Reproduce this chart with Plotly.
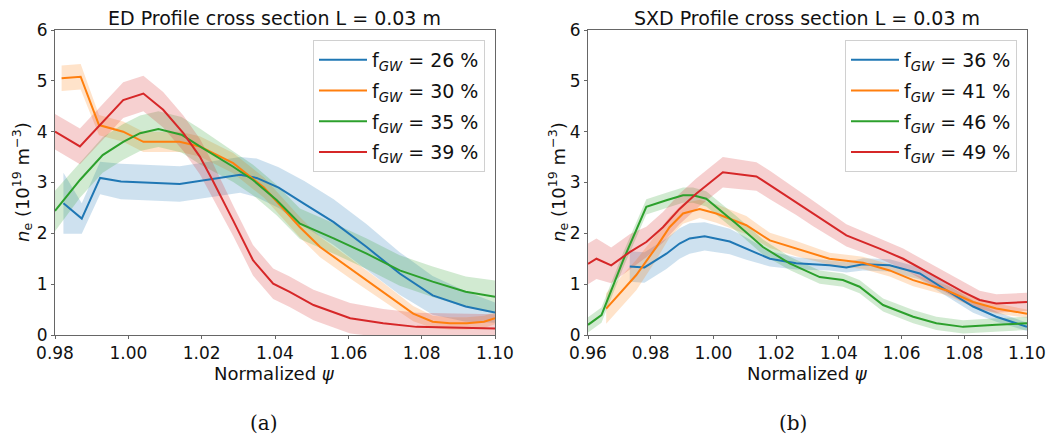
import plotly.graph_objects as go

# ---------------- data ----------------
# ED profile, L = 0.03 m
ed_labels = ["26", "30", "35", "39"]
ed_26_x = [0.9823, 0.9873, 0.9923, 0.998, 1.014, 1.0305, 1.035, 1.041, 1.048, 1.056, 1.065, 1.074, 1.083, 1.092, 1.10]
ed_26_y = [2.59, 2.29, 3.09, 3.02, 2.97, 3.15, 3.09, 2.90, 2.58, 2.22, 1.73, 1.21, 0.78, 0.56, 0.44]
ed_26_err = [0.6, 0.3, 0.32, 0.35, 0.35, 0.35, 0.38, 0.4, 0.45, 0.45, 0.45, 0.42, 0.38, 0.3, 0.2]

ed_30_x = [0.9818, 0.987, 0.992, 0.9986, 1.0041, 1.014, 1.0195, 1.0286, 1.037, 1.0468, 1.0523, 1.0605, 1.0695, 1.0777, 1.083, 1.0877, 1.0923, 1.097, 1.10]
ed_30_y = [5.05, 5.08, 4.13, 4.0, 3.8, 3.8, 3.71, 3.38, 2.9, 2.12, 1.73, 1.31, 0.85, 0.42, 0.26, 0.23, 0.23, 0.26, 0.33]
ed_30_err = [0.25, 0.25, 0.2, 0.2, 0.2, 0.2, 0.2, 0.2, 0.2, 0.2, 0.2, 0.2, 0.18, 0.15, 0.12, 0.12, 0.12, 0.12, 0.12]

ed_35_x = [0.98, 0.9868, 0.993, 0.9986, 1.0032, 1.0082, 1.0145, 1.0195, 1.0286, 1.034, 1.0405, 1.0468, 1.056, 1.065, 1.074, 1.083, 1.092, 1.10]
ed_35_y = [2.44, 3.05, 3.54, 3.8, 3.97, 4.05, 3.94, 3.71, 3.31, 3.05, 2.65, 2.19, 1.9, 1.6, 1.27, 1.05, 0.85, 0.75]
ed_35_err = [0.4, 0.35, 0.35, 0.35, 0.35, 0.35, 0.35, 0.35, 0.3, 0.3, 0.3, 0.3, 0.3, 0.3, 0.3, 0.3, 0.3, 0.32]

ed_39_x = [0.98, 0.9868, 0.9986, 1.0041, 1.0095, 1.015, 1.0195, 1.023, 1.0286, 1.034, 1.0395, 1.044, 1.0505, 1.0605, 1.0695, 1.0786, 1.10]
ed_39_y = [4.0, 3.71, 4.62, 4.75, 4.43, 3.97, 3.51, 3.04, 2.25, 1.47, 1.01, 0.85, 0.59, 0.33, 0.23, 0.16, 0.13]
ed_39_err = [0.35, 0.35, 0.35, 0.35, 0.35, 0.35, 0.35, 0.35, 0.3, 0.3, 0.3, 0.3, 0.3, 0.3, 0.28, 0.28, 0.28]

# SXD profile, L = 0.03 m
sxd_labels = ["36", "41", "46", "49"]
sxd_36_x = [0.9733, 0.978, 0.985, 0.9892, 0.9924, 0.9972, 1.0052, 1.0105, 1.018, 1.0264, 1.037, 1.0424, 1.0477, 1.0562, 1.0658, 1.0743, 1.0828, 1.0902, 1.10]
sxd_36_y = [1.35, 1.33, 1.6, 1.8, 1.9, 1.94, 1.84, 1.70, 1.5, 1.41, 1.37, 1.33, 1.39, 1.37, 1.21, 0.88, 0.56, 0.36, 0.16]
sxd_36_err = [0.3, 0.3, 0.3, 0.3, 0.3, 0.28, 0.25, 0.22, 0.15, 0.12, 0.1, 0.1, 0.12, 0.12, 0.12, 0.12, 0.12, 0.1, 0.08]

sxd_41_x = [0.9658, 0.9754, 0.9818, 0.986, 0.9903, 0.9956, 1.0009, 1.0105, 1.018, 1.0264, 1.037, 1.0477, 1.0562, 1.0637, 1.0743, 1.0828, 1.0902, 1.10]
sxd_41_y = [0.52, 1.18, 1.73, 2.12, 2.39, 2.48, 2.39, 2.16, 1.86, 1.7, 1.5, 1.42, 1.27, 1.08, 0.88, 0.65, 0.52, 0.42]
sxd_41_err = [0.3, 0.3, 0.25, 0.2, 0.2, 0.18, 0.18, 0.18, 0.15, 0.15, 0.12, 0.12, 0.12, 0.12, 0.1, 0.1, 0.1, 0.08]

sxd_46_x = [0.96, 0.9643, 0.9712, 0.9786, 0.985, 0.9903, 0.9935, 0.9977, 1.0073, 1.0158, 1.0243, 1.0339, 1.0413, 1.0466, 1.0541, 1.0637, 1.0711, 1.0796, 1.0902, 1.10]
sxd_46_y = [0.2, 0.39, 1.47, 2.52, 2.65, 2.75, 2.75, 2.68, 2.19, 1.73, 1.41, 1.14, 1.08, 0.95, 0.59, 0.36, 0.23, 0.16, 0.2, 0.23]
sxd_46_err = [0.15, 0.15, 0.15, 0.15, 0.15, 0.15, 0.15, 0.15, 0.15, 0.15, 0.13, 0.13, 0.13, 0.13, 0.13, 0.13, 0.13, 0.13, 0.13, 0.13]

sxd_49_x = [0.96, 0.9627, 0.9674, 0.9733, 0.9786, 0.9839, 0.9892, 0.9945, 1.003, 1.0137, 1.018, 1.0264, 1.0318, 1.0424, 1.053, 1.0605, 1.069, 1.0796, 1.0849, 1.0902, 1.10]
sxd_49_y = [1.4, 1.5, 1.37, 1.63, 1.83, 2.12, 2.48, 2.78, 3.2, 3.12, 2.95, 2.61, 2.39, 1.96, 1.7, 1.5, 1.21, 0.85, 0.69, 0.62, 0.65]
sxd_49_err = [0.4, 0.4, 0.35, 0.35, 0.3, 0.3, 0.3, 0.3, 0.3, 0.28, 0.28, 0.25, 0.25, 0.22, 0.2, 0.2, 0.2, 0.2, 0.18, 0.18, 0.18]

colors = ["#1f77b4", "#ff7f0e", "#2ca02c", "#d62728"]
fills = ["rgba(31,119,180,0.22)", "rgba(255,127,14,0.22)", "rgba(44,160,44,0.22)", "rgba(214,39,40,0.22)"]

ed_series = [(ed_26_x, ed_26_y, ed_26_err), (ed_30_x, ed_30_y, ed_30_err),
             (ed_35_x, ed_35_y, ed_35_err), (ed_39_x, ed_39_y, ed_39_err)]
sxd_series = [(sxd_36_x, sxd_36_y, sxd_36_err), (sxd_41_x, sxd_41_y, sxd_41_err),
              (sxd_46_x, sxd_46_y, sxd_46_err), (sxd_49_x, sxd_49_y, sxd_49_err)]

# the page body margin is removed (post_script below), so window pixels == figure pixels
W, H = 1053, 439
FONT = "DejaVu Sans"


def fx(p):
    return p / W


def fy(p):
    return 1 - p / H


fig = go.Figure()


def add_panel(series, labels, xa, ya, legend, tag):
    # bands first
    for i, (x, y, e) in enumerate(series):
        lo = [v - d for v, d in zip(y, e)]
        hi = [v + d for v, d in zip(y, e)]
        fig.add_trace(go.Scatter(x=list(x) + list(x)[::-1], y=hi + lo[::-1], fill="toself",
                                 fillcolor=fills[i], line=dict(width=0), mode="lines",
                                 showlegend=False, hoverinfo="skip", xaxis=xa, yaxis=ya))
    for i, (x, y, e) in enumerate(series):
        fig.add_trace(go.Scatter(x=x, y=y, mode="lines", line=dict(color=colors[i], width=2),
                                 name="f<sub><i>GW</i></sub> = " + labels[i] + " %",
                                 legendgroup=tag + str(i),
                                 xaxis=xa, yaxis=ya, legend=legend))


add_panel(ed_series, ed_labels, "x", "y", "legend", "ed")
add_panel(sxd_series, sxd_labels, "x2", "y2", "legend2", "sxd")

axis_common = dict(showline=True, linecolor="#666", linewidth=1, mirror=True, ticks="outside",
                   ticklen=3, tickcolor="#666", showgrid=False, zeroline=False, automargin=False,
                   tickfont=dict(family=FONT, size=17, color="#111"))
ydom = [fy(335), fy(30)]
legend_common = dict(y=fy(40), xanchor="right", yanchor="top", bgcolor="white",
                     bordercolor="#d0d0d0", borderwidth=1, tracegroupgap=3, itemwidth=48,
                     font=dict(family=FONT, size=19, color="#111"))
fig.update_layout(
    width=W, height=H, margin=dict(l=0, r=0, t=0, b=0, autoexpand=False),
    paper_bgcolor="white", plot_bgcolor="white",
    xaxis=dict(domain=[fx(55), fx(495)], range=[0.98, 1.10], tickvals=[0.98, 1.00, 1.02, 1.04, 1.06, 1.08, 1.10],
               tickformat=".2f", anchor="y", **axis_common),
    yaxis=dict(domain=ydom, range=[0, 6], tickvals=[0, 1, 2, 3, 4, 5, 6], anchor="x", **axis_common),
    xaxis2=dict(domain=[fx(588), fx(1027)], range=[0.96, 1.10],
                tickvals=[0.96, 0.98, 1.00, 1.02, 1.04, 1.06, 1.08, 1.10],
                tickformat=".2f", anchor="y2", **axis_common),
    yaxis2=dict(domain=ydom, range=[0, 6], tickvals=[0, 1, 2, 3, 4, 5, 6], anchor="x2", **axis_common),
    legend=dict(x=fx(485), **legend_common),
    legend2=dict(x=fx(1017), **legend_common),
    showlegend=True,
)

ann = []


def add_text(text, xp, yp, size, family=FONT, angle=0):
    ann.append(dict(text=text, x=fx(xp), y=fy(yp), xref="paper", yref="paper", xanchor="center",
                    yanchor="middle", showarrow=False, textangle=angle,
                    font=dict(family=family, size=size, color="#111")))


add_text("ED Profile cross section L = 0.03 m", 275, 18, 19)
add_text("SXD Profile cross section L = 0.03 m", 807, 18, 19)
for xc in (275, 807):
    add_text("Normalized <i>ψ</i>", xc, 373, 18)
for xc in (22, 558):
    add_text("<i>n</i><sub>e</sub> (10<sup>19</sup> m<sup>−3</sup>)", xc, 182, 18, angle=-90)
add_text("(a)", 264, 423, 20, family="DejaVu Serif")
add_text("(b)", 793, 423, 20, family="DejaVu Serif")
fig.update_layout(annotations=ann)

fig.write_html("out.html", config={"displayModeBar": False},
               post_script="document.body.style.margin='0px';document.body.style.overflow='hidden';")
